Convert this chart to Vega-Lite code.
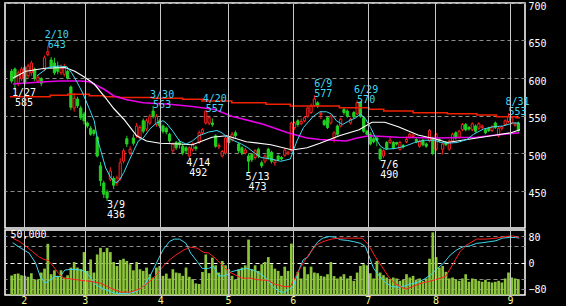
{
"$schema":"https://vega.github.io/schema/vega-lite/v6.json",
"background":"#000000",
"padding":{"left":4,"top":0,"right":21,"bottom":1},
"spacing":0,
"config":{"view":{"stroke":"#ffffff","strokeWidth":1.5},"axis":{"labelFont":"DejaVu Sans Mono","labelFontSize":10,"labelColor":"#ffffff","domain":false,"ticks":false,"tickSize":0,"title":null}},
"datasets":{
"c":[
{"i":0,"o":609,"h":612,"l":593,"c":596,"v":16500},{"i":1,"o":612,"h":614,"l":585,"c":601,"v":17800},{"i":2,"o":593,"h":610,"l":589,"c":607,"v":18200},{"i":3,"o":599,"h":615,"l":596,"c":612,"v":16700},{"i":4,"o":614,"h":617,"l":590,"c":593,"v":16200},{"i":5,"o":603,"h":619,"l":600,"c":616,"v":15400},{"i":6,"o":607,"h":623,"l":603,"c":620,"v":18400},{"i":7,"o":612,"h":614,"l":596,"c":599,"v":12900},{"i":8,"o":596,"h":604,"l":593,"c":601,"v":13400},{"i":9,"o":599,"h":601,"l":589,"c":593,"v":19000},
{"i":10,"o":612,"h":630,"l":609,"c":627,"v":22300},{"i":11,"o":631,"h":643,"l":629,"c":635,"v":43300},{"i":12,"o":624,"h":628,"l":612,"c":615,"v":17600},{"i":13,"o":620,"h":627,"l":604,"c":607,"v":20900},{"i":14,"o":615,"h":622,"l":605,"c":609,"v":16200},{"i":15,"o":607,"h":618,"l":604,"c":613,"v":20900},{"i":16,"o":605,"h":619,"l":602,"c":615,"v":14800},{"i":17,"o":609,"h":611,"l":598,"c":600,"v":16700},{"i":18,"o":588,"h":590,"l":557,"c":561,"v":23200},{"i":19,"o":560,"h":580,"l":555,"c":573,"v":27900},
{"i":20,"o":572,"h":575,"l":560,"c":563,"v":23200},{"i":21,"o":560,"h":563,"l":544,"c":547,"v":21800},{"i":22,"o":552,"h":555,"l":538,"c":543,"v":36300},{"i":23,"o":540,"h":542,"l":533,"c":536,"v":20400},{"i":24,"o":533,"h":536,"l":523,"c":525,"v":30100},{"i":25,"o":530,"h":532,"l":523,"c":526,"v":19000},{"i":26,"o":521,"h":523,"l":494,"c":496,"v":34300},{"i":27,"o":483,"h":488,"l":456,"c":463,"v":39900},{"i":28,"o":460,"h":463,"l":440,"c":445,"v":36300},{"i":29,"o":448,"h":451,"l":436,"c":440,"v":39900},
{"i":30,"o":465,"h":481,"l":462,"c":476,"v":36300},{"i":31,"o":466,"h":469,"l":452,"c":457,"v":27900},{"i":32,"o":460,"h":470,"l":456,"c":467,"v":24600},{"i":33,"o":466,"h":493,"l":463,"c":487,"v":29600},{"i":34,"o":489,"h":506,"l":486,"c":503,"v":30700},{"i":35,"o":519,"h":523,"l":508,"c":512,"v":28800},{"i":36,"o":500,"h":509,"l":497,"c":505,"v":26000},{"i":37,"o":520,"h":525,"l":510,"c":513,"v":20900},{"i":38,"o":523,"h":540,"l":520,"c":536,"v":27900},{"i":39,"o":520,"h":537,"l":517,"c":534,"v":21800},
{"i":40,"o":543,"h":546,"l":526,"c":529,"v":20400},{"i":41,"o":532,"h":546,"l":529,"c":543,"v":23200},{"i":42,"o":540,"h":552,"l":537,"c":549,"v":17600},{"i":43,"o":556,"h":563,"l":546,"c":549,"v":14800},{"i":44,"o":538,"h":552,"l":535,"c":549,"v":23200},{"i":45,"o":543,"h":546,"l":533,"c":536,"v":24600},{"i":46,"o":536,"h":538,"l":526,"c":529,"v":16200},{"i":47,"o":533,"h":535,"l":525,"c":528,"v":18100},{"i":48,"o":525,"h":527,"l":513,"c":516,"v":14000},{"i":49,"o":503,"h":514,"l":500,"c":512,"v":21800},
{"i":50,"o":514,"h":516,"l":504,"c":507,"v":19000},{"i":51,"o":514,"h":518,"l":506,"c":511,"v":18500},{"i":52,"o":509,"h":512,"l":497,"c":500,"v":16200},{"i":53,"o":507,"h":509,"l":499,"c":503,"v":23200},{"i":54,"o":496,"h":509,"l":492,"c":507,"v":15400},{"i":55,"o":505,"h":514,"l":502,"c":512,"v":13400},{"i":56,"o":508,"h":510,"l":503,"c":506,"v":9800},{"i":57,"o":514,"h":530,"l":512,"c":527,"v":9300},{"i":58,"o":527,"h":533,"l":525,"c":531,"v":19500},{"i":59,"o":540,"h":557,"l":538,"c":556,"v":34300},
{"i":60,"o":540,"h":550,"l":537,"c":547,"v":18500},{"i":61,"o":540,"h":546,"l":535,"c":538,"v":31600},{"i":62,"o":523,"h":525,"l":507,"c":509,"v":25100},{"i":63,"o":508,"h":513,"l":505,"c":510,"v":19000},{"i":64,"o":496,"h":504,"l":494,"c":502,"v":28800},{"i":65,"o":500,"h":522,"l":498,"c":520,"v":25100},{"i":66,"o":521,"h":523,"l":511,"c":514,"v":21800},{"i":67,"o":518,"h":528,"l":515,"c":525,"v":16200},{"i":68,"o":527,"h":530,"l":520,"c":523,"v":12900},{"i":69,"o":512,"h":514,"l":500,"c":503,"v":21800},
{"i":70,"o":507,"h":509,"l":497,"c":500,"v":23200},{"i":71,"o":500,"h":507,"l":498,"c":504,"v":25100},{"i":72,"o":496,"h":499,"l":473,"c":489,"v":46900},{"i":73,"o":498,"h":500,"l":488,"c":491,"v":21800},{"i":74,"o":494,"h":505,"l":491,"c":503,"v":25100},{"i":75,"o":505,"h":507,"l":493,"c":496,"v":20400},{"i":76,"o":487,"h":490,"l":480,"c":483,"v":26000},{"i":77,"o":489,"h":498,"l":486,"c":496,"v":27900},{"i":78,"o":505,"h":507,"l":491,"c":494,"v":32100},{"i":79,"o":501,"h":503,"l":486,"c":489,"v":26000},
{"i":80,"o":487,"h":492,"l":483,"c":490,"v":22300},{"i":81,"o":496,"h":498,"l":489,"c":491,"v":20400},{"i":82,"o":494,"h":496,"l":490,"c":492,"v":16200},{"i":83,"o":497,"h":506,"l":495,"c":504,"v":24000},{"i":84,"o":499,"h":503,"l":497,"c":501,"v":20400},{"i":85,"o":503,"h":542,"l":501,"c":540,"v":43500},{"i":86,"o":534,"h":542,"l":531,"c":540,"v":13400},{"i":87,"o":543,"h":545,"l":535,"c":538,"v":19600},{"i":88,"o":539,"h":546,"l":537,"c":542,"v":14000},{"i":89,"o":543,"h":549,"l":541,"c":547,"v":24000},
{"i":90,"o":549,"h":562,"l":547,"c":560,"v":17600},{"i":91,"o":554,"h":566,"l":552,"c":563,"v":24000},{"i":92,"o":563,"h":577,"l":561,"c":572,"v":19000},{"i":93,"o":567,"h":569,"l":560,"c":563,"v":18400},{"i":94,"o":551,"h":556,"l":545,"c":553,"v":16200},{"i":95,"o":543,"h":545,"l":536,"c":538,"v":15600},{"i":96,"o":547,"h":549,"l":532,"c":534,"v":17600},{"i":97,"o":540,"h":551,"l":538,"c":549,"v":27900},{"i":98,"o":520,"h":529,"l":514,"c":527,"v":16000},{"i":99,"o":536,"h":538,"l":523,"c":525,"v":14000},
{"i":100,"o":536,"h":547,"l":534,"c":545,"v":15600},{"i":101,"o":558,"h":560,"l":551,"c":554,"v":17600},{"i":102,"o":556,"h":558,"l":547,"c":549,"v":14000},{"i":103,"o":540,"h":547,"l":538,"c":545,"v":16200},{"i":104,"o":554,"h":556,"l":546,"c":548,"v":12000},{"i":105,"o":552,"h":570,"l":550,"c":567,"v":19000},{"i":106,"o":568,"h":569,"l":547,"c":549,"v":24600},{"i":107,"o":547,"h":549,"l":527,"c":529,"v":26000},{"i":108,"o":529,"h":531,"l":524,"c":525,"v":25100},{"i":109,"o":525,"h":528,"l":510,"c":512,"v":18400},
{"i":110,"o":519,"h":521,"l":513,"c":515,"v":14000},{"i":111,"o":520,"h":522,"l":509,"c":517,"v":28800},{"i":112,"o":505,"h":507,"l":490,"c":492,"v":19000},{"i":113,"o":496,"h":505,"l":493,"c":503,"v":16800},{"i":114,"o":514,"h":516,"l":504,"c":506,"v":14800},{"i":115,"o":514,"h":521,"l":512,"c":517,"v":13400},{"i":116,"o":514,"h":516,"l":505,"c":507,"v":14800},{"i":117,"o":514,"h":515,"l":510,"c":512,"v":14000},{"i":118,"o":505,"h":516,"l":503,"c":514,"v":12000},{"i":119,"o":510,"h":512,"l":506,"c":508,"v":13000},
{"i":120,"o":515,"h":522,"l":513,"c":518,"v":17600},{"i":121,"o":521,"h":527,"l":519,"c":525,"v":14800},{"i":122,"o":522,"h":526,"l":520,"c":524,"v":16200},{"i":123,"o":518,"h":520,"l":513,"c":515,"v":12900},{"i":124,"o":509,"h":518,"l":507,"c":516,"v":14000},{"i":125,"o":517,"h":519,"l":509,"c":511,"v":12000},{"i":126,"o":512,"h":514,"l":507,"c":509,"v":14000},{"i":127,"o":516,"h":532,"l":514,"c":530,"v":30700},{"i":128,"o":520,"h":522,"l":497,"c":500,"v":53000},{"i":129,"o":505,"h":527,"l":503,"c":525,"v":32100},
{"i":130,"o":518,"h":520,"l":514,"c":516,"v":23200},{"i":131,"o":505,"h":514,"l":498,"c":512,"v":24600},{"i":132,"o":514,"h":516,"l":509,"c":511,"v":19600},{"i":133,"o":505,"h":518,"l":503,"c":516,"v":14000},{"i":134,"o":516,"h":527,"l":514,"c":525,"v":14800},{"i":135,"o":527,"h":529,"l":518,"c":520,"v":13400},{"i":136,"o":521,"h":531,"l":519,"c":529,"v":12000},{"i":137,"o":531,"h":540,"l":529,"c":538,"v":14000},{"i":138,"o":538,"h":540,"l":529,"c":531,"v":17600},{"i":139,"o":534,"h":536,"l":530,"c":532,"v":11200},
{"i":140,"o":531,"h":541,"l":529,"c":539,"v":14000},{"i":141,"o":536,"h":538,"l":527,"c":529,"v":13400},{"i":142,"o":533,"h":541,"l":531,"c":539,"v":12000},{"i":143,"o":534,"h":538,"l":532,"c":536,"v":11200},{"i":144,"o":531,"h":533,"l":525,"c":527,"v":12900},{"i":145,"o":533,"h":535,"l":528,"c":530,"v":11200},{"i":146,"o":530,"h":537,"l":528,"c":535,"v":10600},{"i":147,"o":540,"h":542,"l":532,"c":534,"v":11200},{"i":148,"o":523,"h":535,"l":521,"c":533,"v":12000},{"i":149,"o":533,"h":536,"l":530,"c":535,"v":10600},
{"i":150,"o":538,"h":545,"l":536,"c":543,"v":14000},{"i":151,"o":542,"h":553,"l":540,"c":549,"v":19000},{"i":152,"o":540,"h":549,"l":538,"c":547,"v":14800},{"i":153,"o":537,"h":541,"l":535,"c":539,"v":14000},{"i":154,"o":540,"h":542,"l":528,"c":530,"v":13400}
],
"w":[{"i":0.4,"p":600},{"i":4.3,"p":609},{"i":10.2,"p":613},{"i":16.2,"p":614},{"i":19.2,"p":609},{"i":22.2,"p":601},{"i":25.1,"p":592},{"i":28.1,"p":576},{"i":31.1,"p":559},{"i":34.1,"p":545},{"i":38,"p":523},{"i":41,"p":516},{"i":45.1,"p":513},{"i":51.1,"p":512},{"i":54.9,"p":511},{"i":57.9,"p":516},{"i":60.9,"p":521},{"i":65.4,"p":523},{"i":71.3,"p":515},{"i":78.8,"p":511},{"i":85.3,"p":504},{"i":89.8,"p":507},{"i":93.7,"p":513},{"i":99.6,"p":523},{"i":105.6,"p":531},{"i":109.5,"p":541},{"i":113.4,"p":541},{"i":117.5,"p":535},{"i":123.5,"p":524},{"i":128.6,"p":519},{"i":132.4,"p":514},{"i":135.4,"p":516},{"i":141.4,"p":520},{"i":147.3,"p":524},{"i":151.8,"p":527},{"i":154.5,"p":531}],
"cy":[{"i":7.7,"p":603},{"i":11.1,"p":614},{"i":14.1,"p":616},{"i":16.8,"p":615},{"i":18.2,"p":607},{"i":19.7,"p":596},{"i":21.6,"p":580},{"i":23.6,"p":559},{"i":25.1,"p":543},{"i":26,"p":520},{"i":27.1,"p":503},{"i":28.6,"p":480},{"i":30.1,"p":467},{"i":31.6,"p":460},{"i":32.6,"p":463},{"i":34.1,"p":474},{"i":35.6,"p":489},{"i":37.1,"p":503},{"i":38.5,"p":516},{"i":40,"p":520},{"i":42,"p":532},{"i":44,"p":540},{"i":46,"p":543},{"i":47,"p":540},{"i":49,"p":529},{"i":51,"p":516},{"i":53,"p":512},{"i":54.9,"p":516},{"i":56.9,"p":523},{"i":59.9,"p":528},{"i":62.4,"p":530},{"i":63.9,"p":527},{"i":65.9,"p":520},{"i":67.8,"p":516},{"i":69.8,"p":512},{"i":71.8,"p":507},{"i":73.8,"p":500},{"i":75.8,"p":494},{"i":78.8,"p":492},{"i":81.8,"p":489},{"i":84.7,"p":492},{"i":85.6,"p":503},{"i":86.7,"p":516},{"i":88.7,"p":534},{"i":91.7,"p":549},{"i":93.7,"p":555},{"i":95.7,"p":555},{"i":97.2,"p":552},{"i":98.7,"p":543},{"i":100.6,"p":538},{"i":102.6,"p":543},{"i":104.6,"p":547},{"i":106.1,"p":552},{"i":107.6,"p":545},{"i":109.1,"p":534},{"i":110.6,"p":520},{"i":112.1,"p":509},{"i":113.6,"p":505},{"i":116.5,"p":506},{"i":119.5,"p":509},{"i":122.5,"p":514},{"i":125.5,"p":517},{"i":128.5,"p":517},{"i":130.5,"p":514},{"i":132.4,"p":513},{"i":135.4,"p":514},{"i":138.4,"p":518},{"i":140.4,"p":525},{"i":143.4,"p":532},{"i":146.3,"p":535},{"i":149.3,"p":536},{"i":152.3,"p":540},{"i":154.3,"p":540}],
"mg":[{"i":0.4,"p":592},{"i":3.4,"p":593},{"i":10.2,"p":595},{"i":14.7,"p":596},{"i":20.7,"p":596},{"i":23.6,"p":595},{"i":28.1,"p":585},{"i":31.1,"p":576},{"i":35,"p":571},{"i":40,"p":567},{"i":48,"p":565},{"i":54.9,"p":562},{"i":61.8,"p":558},{"i":66.9,"p":549},{"i":76.7,"p":538},{"i":83.9,"p":527},{"i":89.8,"p":520},{"i":93.7,"p":518},{"i":101.7,"p":516},{"i":105,"p":520},{"i":108.6,"p":523},{"i":117.5,"p":521},{"i":128.6,"p":520},{"i":141.4,"p":521},{"i":147.3,"p":524},{"i":154.3,"p":527}],
"rd":[{"i":-0.5,"p":575},{"i":11.7,"p":577},{"i":17.1,"p":578.3},{"i":23.6,"p":576.4},{"i":28.1,"p":575},{"i":32.6,"p":574},{"i":43,"p":573},{"i":52,"p":571.6},{"i":57.9,"p":569.3},{"i":66.9,"p":567},{"i":77.3,"p":565},{"i":84.7,"p":562.7},{"i":99.6,"p":560.4},{"i":108.6,"p":558.3},{"i":113.1,"p":556},{"i":122,"p":553.7},{"i":132.4,"p":552.4},{"i":141.4,"p":550.7},{"i":147.3,"p":548.4},{"i":153.3,"p":547},{"i":154.5,"p":547}],
"lab":[{"i":1,"p":585,"d":"1/27","k":"L"},{"i":11,"p":643,"d":"2/10","k":"H"},{"i":29,"p":436,"d":"3/9","k":"L"},{"i":43,"p":563,"d":"3/30","k":"H"},{"i":54,"p":492,"d":"4/14","k":"L"},{"i":59,"p":557,"d":"4/20","k":"H"},{"i":72,"p":473,"d":"5/13","k":"L"},{"i":92,"p":577,"d":"6/9","k":"H"},{"i":105,"p":570,"d":"6/29","k":"H"},{"i":112,"p":490,"d":"7/6","k":"L"},{"i":151,"p":553,"d":"8/31","k":"H"}],
"os":[
{"s":"a","i":0.3,"v":61},{"s":"a","i":2.8,"v":44},{"s":"a","i":5.3,"v":29},{"s":"a","i":7.3,"v":-2},{"s":"a","i":8.7,"v":-43},{"s":"a","i":10.2,"v":-64},{"s":"a","i":11.7,"v":-53},{"s":"a","i":13.2,"v":-43},{"s":"a","i":14.7,"v":-43},{"s":"a","i":16.2,"v":-23},{"s":"a","i":18.2,"v":-21},{"s":"a","i":21.2,"v":-23},{"s":"a","i":22.7,"v":-31},{"s":"a","i":24.1,"v":-48},{"s":"a","i":25.6,"v":-69},{"s":"a","i":28.1,"v":-82},{"s":"a","i":31.1,"v":-94},{"s":"a","i":34.1,"v":-96},{"s":"a","i":36.1,"v":-94},{"s":"a","i":38,"v":-89},{"s":"a","i":40,"v":-74},{"s":"a","i":42,"v":-43},{"s":"a","i":44,"v":-2},{"s":"a","i":46,"v":39},{"s":"a","i":48,"v":65},{"s":"a","i":49.5,"v":72},{"s":"a","i":51,"v":72},{"s":"a","i":53,"v":59},{"s":"a","i":54.4,"v":29},{"s":"a","i":56.4,"v":3},{"s":"a","i":57.9,"v":-18},{"s":"a","i":59.9,"v":-18},{"s":"a","i":61.4,"v":-12},{"s":"a","i":62.9,"v":-41},{"s":"a","i":64.9,"v":-41},{"s":"a","i":66.9,"v":-28},{"s":"a","i":68.9,"v":-23},{"s":"a","i":71.3,"v":-18},{"s":"a","i":73.3,"v":-23},{"s":"a","i":75.3,"v":-33},{"s":"a","i":77.3,"v":-48},{"s":"a","i":79.3,"v":-74},{"s":"a","i":81.3,"v":-89},{"s":"a","i":82.7,"v":-92},{"s":"a","i":84.1,"v":-84},{"s":"a","i":85.6,"v":-74},{"s":"a","i":87.1,"v":-28},{"s":"a","i":88.6,"v":8},{"s":"a","i":90.1,"v":18},{"s":"a","i":91.6,"v":44},{"s":"a","i":93.1,"v":64},{"s":"a","i":94.6,"v":75},{"s":"a","i":96.6,"v":80},{"s":"a","i":98.1,"v":78},{"s":"a","i":100,"v":70},{"s":"a","i":102,"v":68},{"s":"a","i":104,"v":64},{"s":"a","i":106,"v":59},{"s":"a","i":107.5,"v":49},{"s":"a","i":108.5,"v":23},{"s":"a","i":110,"v":-18},{"s":"a","i":111.5,"v":-38},{"s":"a","i":113.5,"v":-61},{"s":"a","i":115.4,"v":-74},{"s":"a","i":117.4,"v":-76},{"s":"a","i":119.4,"v":-72},{"s":"a","i":121.4,"v":-66},{"s":"a","i":123.4,"v":-61},{"s":"a","i":125.4,"v":-51},{"s":"a","i":127.4,"v":-38},{"s":"a","i":129.4,"v":-18},{"s":"a","i":131.3,"v":-2},{"s":"a","i":133.3,"v":23},{"s":"a","i":135.3,"v":39},{"s":"a","i":137.3,"v":49},{"s":"a","i":139.3,"v":51},{"s":"a","i":141.3,"v":59},{"s":"a","i":143.2,"v":61},{"s":"a","i":145.3,"v":64},{"s":"a","i":147.2,"v":67},{"s":"a","i":149.2,"v":75},{"s":"a","i":151.2,"v":77},{"s":"a","i":153.2,"v":77},{"s":"a","i":154.2,"v":75},
{"s":"b","i":0.3,"v":75},{"s":"b","i":2.3,"v":65},{"s":"b","i":4.3,"v":51},{"s":"b","i":6.3,"v":34},{"s":"b","i":8.2,"v":18},{"s":"b","i":9.7,"v":10},{"s":"b","i":11.2,"v":6},{"s":"b","i":12.7,"v":-12},{"s":"b","i":14.2,"v":-33},{"s":"b","i":15.7,"v":-48},{"s":"b","i":18.2,"v":-51},{"s":"b","i":21.2,"v":-55},{"s":"b","i":24.1,"v":-58},{"s":"b","i":27.1,"v":-64},{"s":"b","i":30.1,"v":-79},{"s":"b","i":33.1,"v":-91},{"s":"b","i":36.1,"v":-91},{"s":"b","i":39,"v":-81},{"s":"b","i":42,"v":-58},{"s":"b","i":44,"v":-38},{"s":"b","i":46,"v":-12},{"s":"b","i":48,"v":8},{"s":"b","i":49.9,"v":23},{"s":"b","i":52.4,"v":39},{"s":"b","i":54.4,"v":47},{"s":"b","i":56.4,"v":44},{"s":"b","i":58.4,"v":31},{"s":"b","i":59.9,"v":29},{"s":"b","i":61.9,"v":13},{"s":"b","i":63.9,"v":-7},{"s":"b","i":65.9,"v":-28},{"s":"b","i":67.9,"v":-38},{"s":"b","i":69.9,"v":-48},{"s":"b","i":72.4,"v":-48},{"s":"b","i":74.8,"v":-53},{"s":"b","i":77.8,"v":-55},{"s":"b","i":79.8,"v":-66},{"s":"b","i":82.7,"v":-74},{"s":"b","i":84.7,"v":-74},{"s":"b","i":86.6,"v":-38},{"s":"b","i":88.6,"v":-2},{"s":"b","i":90.6,"v":29},{"s":"b","i":92.6,"v":54},{"s":"b","i":94.6,"v":64},{"s":"b","i":97.1,"v":72},{"s":"b","i":99.6,"v":75},{"s":"b","i":102.6,"v":75},{"s":"b","i":106.5,"v":75},{"s":"b","i":108.5,"v":54},{"s":"b","i":110.5,"v":18},{"s":"b","i":112.5,"v":-12},{"s":"b","i":114.5,"v":-43},{"s":"b","i":116.4,"v":-64},{"s":"b","i":118.4,"v":-76},{"s":"b","i":119.9,"v":-82},{"s":"b","i":121.9,"v":-74},{"s":"b","i":124.4,"v":-64},{"s":"b","i":126.9,"v":-58},{"s":"b","i":129.4,"v":-51},{"s":"b","i":131.9,"v":-43},{"s":"b","i":134.3,"v":-2},{"s":"b","i":136.3,"v":34},{"s":"b","i":138.3,"v":54},{"s":"b","i":141.3,"v":72},{"s":"b","i":144.3,"v":72},{"s":"b","i":147.2,"v":75},{"s":"b","i":150.2,"v":80},{"s":"b","i":152.2,"v":82},{"s":"b","i":154.2,"v":77}
]
},
"vconcat":[
{
"width":520,"height":225,
"encoding":{"x":{"field":"i","type":"quantitative","scale":{"domain":[-0.5,154.5],"nice":false,"zero":false},"axis":{"values":[3.67,22.24,45.19,65.76,85.43,108.2,128.8,151.5],"grid":true,"gridColor":"#c8c8c8","gridWidth":1,"labels":false,"zindex":1}}},
"layer":[
{"data":{"name":"c"},"mark":{"type":"rule","strokeWidth":1},"encoding":{"y":{"field":"l","type":"quantitative","scale":{"domain":[400,700],"nice":false,"zero":false},"axis":{"orient":"right","values":[450,500,550,600,650,700],"grid":true,"gridColor":"#8c8c8c","gridDash":[4,3],"gridWidth":1,"labelPadding":3,"labelBaseline":"top","labelOffset":-2}},"y2":{"field":"h"},"color":{"condition":{"test":"datum.c >= datum.o","value":"#ff2020"},"value":"#22d022"}}},
{"data":{"name":"c"},"mark":{"type":"bar","width":2.2,"strokeWidth":1},"encoding":{"y":{"field":"o","type":"quantitative"},"y2":{"field":"c"},"fill":{"condition":{"test":"datum.c >= datum.o","value":"#000000"},"value":"#22d022"},"stroke":{"condition":{"test":"datum.c >= datum.o","value":"#ff2020"},"value":"#22d022"}}},
{"data":{"name":"rd"},"mark":{"type":"line","interpolate":"step-after","color":"#f02000","strokeWidth":1.6,"clip":true},"encoding":{"y":{"field":"p","type":"quantitative"}}},
{"data":{"name":"mg"},"mark":{"type":"line","color":"#e800e8","strokeWidth":1.6,"clip":true},"encoding":{"y":{"field":"p","type":"quantitative"}}},
{"data":{"name":"w"},"mark":{"type":"line","color":"#ffffff","strokeWidth":1.2,"clip":true},"encoding":{"y":{"field":"p","type":"quantitative"}}},
{"data":{"name":"cy"},"mark":{"type":"line","color":"#3ed8f0","strokeWidth":1,"clip":true},"encoding":{"y":{"field":"p","type":"quantitative"}}},
{"data":{"name":"lab"},"transform":[{"filter":"datum.k == 'H'"}],"mark":{"type":"text","font":"DejaVu Sans Mono","fontSize":10,"align":"center","baseline":"alphabetic","dx":9,"dy":-8,"color":"#3ed8f0"},"encoding":{"y":{"field":"p","type":"quantitative"},"text":{"field":"d"}}},
{"data":{"name":"lab"},"transform":[{"filter":"datum.k == 'H'"}],"mark":{"type":"text","font":"DejaVu Sans Mono","fontSize":10,"align":"center","baseline":"alphabetic","dx":9,"dy":2,"color":"#3ed8f0"},"encoding":{"y":{"field":"p","type":"quantitative"},"text":{"field":"p","type":"quantitative","format":"d"}}},
{"data":{"name":"lab"},"transform":[{"filter":"datum.k == 'L'"}],"mark":{"type":"text","font":"DejaVu Sans Mono","fontSize":10,"align":"center","baseline":"alphabetic","dx":9,"dy":7,"color":"#ffffff"},"encoding":{"y":{"field":"p","type":"quantitative"},"text":{"field":"d"}}},
{"data":{"name":"lab"},"transform":[{"filter":"datum.k == 'L'"}],"mark":{"type":"text","font":"DejaVu Sans Mono","fontSize":10,"align":"center","baseline":"alphabetic","dx":9,"dy":17,"color":"#ffffff"},"encoding":{"y":{"field":"p","type":"quantitative"},"text":{"field":"p","type":"quantitative","format":"d"}}}
]
},
{
"width":520,"height":65,
"encoding":{"x":{"field":"i","type":"quantitative","scale":{"domain":[-0.5,154.5],"nice":false,"zero":false},"axis":{"values":[3.67,22.24,45.19,65.76,85.43,108.2,128.8,151.5],"grid":true,"gridColor":"#c8c8c8","gridWidth":1,"zindex":1,"labelColor":"#f5f58c","labelFontSize":10,"labelPadding":0,"labelExpr":"datum.value < 10 ? '2' : datum.value < 30 ? '3' : datum.value < 55 ? '4' : datum.value < 75 ? '5' : datum.value < 95 ? '6' : datum.value < 118 ? '7' : datum.value < 140 ? '8' : '9'"}}},
"layer":[
{"data":{"name":"c"},"mark":{"type":"bar","width":2.7,"color":"#8cc43c"},"encoding":{"y":{"field":"v","type":"quantitative","scale":{"domain":[0,55000],"nice":false},"axis":{"orient":"left","values":[50000],"labelAlign":"left","labelPadding":-5,"labelBaseline":"middle","labelOffset":-1,"grid":false}}}},
{"data":{"name":"os"},"mark":{"type":"line","strokeWidth":1,"clip":true},"encoding":{"y":{"field":"v","type":"quantitative","scale":{"domain":[-100,100],"nice":false},"axis":{"orient":"right","values":[80,50,0,-50,-80],"grid":true,"gridDash":[4,3],"gridColor":{"condition":{"test":"datum.value == 0","value":"#ffffff"},"value":"#8c8c8c"},"labelPadding":3,"labelOffset":1}},"color":{"field":"s","type":"nominal","scale":{"domain":["a","b"],"range":["#3ed8f0","#ff2020"]},"legend":null}}}
],
"resolve":{"scale":{"y":"independent"}}
}
]
}
